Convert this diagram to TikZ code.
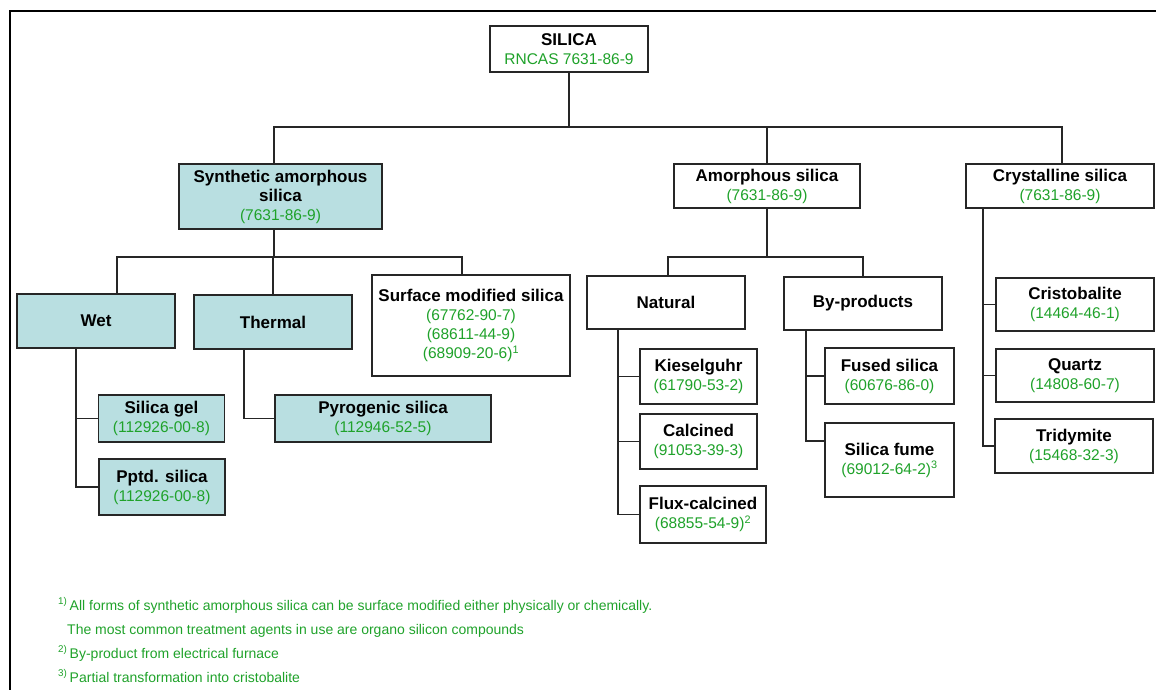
\documentclass[tikz,border=0pt]{standalone}
\usepackage{fontspec}
\setmainfont{Liberation Sans}
\usepackage{xcolor}
\usepackage{tikz}
\definecolor{casgreen}{HTML}{1FA22A}
\definecolor{pale}{HTML}{B9DFE1}
\newcommand{\cas}[1]{{\mdseries\fontsize{15.5}{19}\selectfont\color{casgreen}#1}}

\begin{document}
\begin{tikzpicture}[x=1pt,y=-1pt,
  box/.style={draw=black!85,line width=1.3pt,fill=white,inner sep=0pt,align=center,font=\fontsize{17}{19}\selectfont\bfseries},
  syn/.style={box,fill=pale},
  sz/.style 2 args={minimum width=#1pt,minimum height=#2pt},
  link/.style={black!85,line width=1.2pt},
  fnote/.style={anchor=base west,inner sep=0pt,text=casgreen,font=\fontsize{14}{16}\selectfont}]
\useasboundingbox (0,0) rectangle (1156,690);
% frame
\draw[line width=1.8pt] (10,690) -- (10,11) -- (1156,11);
% top
\node[box,sz={158}{46}] (silica) at (569,49) {SILICA\\\cas{RNCAS 7631-86-9}};
\node[syn,sz={203}{65}] (synth) at (280.5,196.5) {Synthetic amorphous\\silica\\\cas{(7631-86-9)}};
\node[box,sz={186}{44}] (amorph) at (767,186) {Amorphous silica\\\cas{(7631-86-9)}};
\node[box,sz={188}{44}] (cryst) at (1060,186) {Crystalline silica\\\cas{(7631-86-9)}};
\coordinate (topbus) at (569,127);
\draw[link] (silica) -- (topbus);
\draw[link] ([xshift=-6.5pt]synth.north) |- (topbus) -| ([xshift=2pt]cryst.north);
\draw[link] (amorph) -- (amorph |- topbus);
% synthetic amorphous
\node[syn,sz={158}{54}] (wet) at (96,321) {Wet};
\node[syn,sz={158}{54}] (thermal) at (273,322) {Thermal};
\node[box,sz={198}{101}] (surface) at (471,325.5) {Surface modified silica\\\cas{(67762-90-7)}\\\cas{(68611-44-9)}\\\cas{(68909-20-6)\textsuperscript{1}}};
\coordinate (synbus) at (274,257);
\draw[link] ([xshift=-6.5pt]synth.south) -- (synbus);
\draw[link] ([xshift=21pt]wet.north) |- (synbus) -| ([xshift=-9pt]surface.north);
\draw[link] (thermal) -- (thermal |- synbus);
\node[syn,sz={126}{47}] (gel) at (161.5,418.5) {Silica gel\\\cas{(112926-00-8)}};
\node[syn,sz={126}{56}] (pptd) at (162,487) {Pptd. silica\\\cas{(112926-00-8)}};
\node[syn,sz={216}{47}] (pyro) at (383,418.5) {Pyrogenic silica\\\cas{(112946-52-5)}};
\draw[link] ([xshift=-20pt]wet.south) |- (gel);
\draw[link] ([xshift=-20pt]wet.south) |- (pptd);
\draw[link] ([xshift=-29pt]thermal.south) |- (pyro);
% amorphous
\node[box,sz={158}{53}] (natural) at (666,302.5) {Natural};
\node[box,sz={158}{53}] (byprod) at (863,303.5) {By-products};
\coordinate (amobus) at (767,257);
\draw[link] (amorph) -- (amobus);
\draw[link] ([xshift=2pt]natural.north) |- (amobus) -| (byprod.north);
\node[box,sz={117}{55}] (kiesel) at (698.5,376.5) {Kieselguhr\\\cas{(61790-53-2)}};
\node[box,sz={117}{55}] (calcined) at (698.5,441.5) {Calcined\\\cas{(91053-39-3)}};
\node[box,sz={126}{57}] (flux) at (703,514.5) {Flux-calcined\\\cas{(68855-54-9)\textsuperscript{2}}};
\foreach \n in {kiesel,calcined,flux}{\draw[link] ([xshift=-48pt]natural.south) |- (\n);}
\node[box,sz={129}{56}] (fused) at (889.5,376) {Fused silica\\\cas{(60676-86-0)}};
\node[box,sz={129}{74}] (fume) at (889.5,460) {Silica fume\\\cas{(69012-64-2)\textsuperscript{3}}};
\draw[link] ([xshift=-57pt]byprod.south) |- (fused);
\draw[link] ([xshift=-57pt]byprod.south) |- ([yshift=19pt]fume.west);
% crystalline
\node[box,sz={158}{53}] (cristo) at (1075,304.5) {Cristobalite\\\cas{(14464-46-1)}};
\node[box,sz={158}{53}] (quartz) at (1075,375.5) {Quartz\\\cas{(14808-60-7)}};
\node[box,sz={158}{54}] (tridy) at (1074,446) {Tridymite\\\cas{(15468-32-3)}};
\foreach \n in {cristo,quartz,tridy}{\draw[link] ([xshift=-77pt]cryst.south) |- (\n);}
% footnotes
\node[fnote] (fn1) at (58,610) {\textsuperscript{1)}\,All forms of synthetic amorphous silica can be surface modified either physically or chemically.};
\node[fnote] (fn1b) at (67,634) {The most common treatment agents in use are organo silicon compounds};
\node[fnote] (fn2) at (58,658) {\textsuperscript{2)}\,By-product from electrical furnace};
\node[fnote] (fn3) at (58,682) {\textsuperscript{3)}\,Partial transformation into cristobalite};
\end{tikzpicture}
\end{document}
